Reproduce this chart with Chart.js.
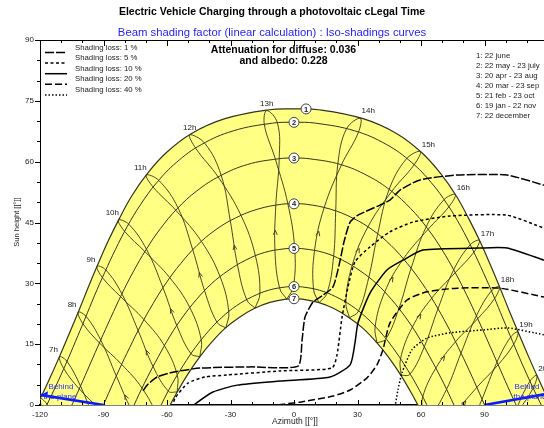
<!DOCTYPE html>
<html>
<head>
<meta charset="utf-8">
<script src="https://cdn.jsdelivr.net/npm/chart.js@4.4.1/dist/chart.umd.min.js"></script>
<style>html,body{margin:0;padding:0;background:#fff}canvas{display:block}</style>
</head>
<body>
<canvas id="c" width="544" height="428"></canvas>
<script>
const FONT = "'Liberation Sans', Arial, sans-serif";

const AZ_MAX = 118.1;
const tickAz = [-120, -90, -60, -30, 0, 30, 60, 90];
const tickEl = [0, 15, 30, 45, 60, 75, 90];

// Daily sun paths [azimuth, height]
const path1 = [[-129.7,-7.5],[-124.5,-2.9],[-119.6,1.9],[-115.0,7.0],[-110.5,12.3],[-106.1,17.7],[-101.7,23.2],[-97.3,28.9],[-92.8,34.5],[-87.9,40.3],[-82.6,45.9],[-76.6,51.6],[-69.4,57.0],[-60.4,62.2],[-48.6,66.9],[-32.6,70.6],[-11.7,72.8],[0,73.0],[11.7,72.8],[32.6,70.6],[48.6,66.9],[60.4,62.2],[69.4,57.0],[76.6,51.6],[82.6,45.9],[87.9,40.3],[92.8,34.5],[97.3,28.9],[101.7,23.2],[106.1,17.7],[110.5,12.3],[115.0,7.0],[119.6,1.9],[124.5,-2.9],[129.7,-7.5]];
const path2 = [[-122.2,-5.4],[-117.2,-0.4],[-112.4,4.8],[-107.8,10.1],[-103.3,15.6],[-98.8,21.2],[-94.3,26.9],[-89.5,32.6],[-84.4,38.3],[-78.8,44.0],[-72.4,49.5],[-64.9,54.8],[-55.6,59.8],[-43.8,64.2],[-28.7,67.6],[-10.1,69.5],[0,69.7],[10.1,69.5],[28.7,67.6],[43.8,64.2],[55.6,59.8],[64.9,54.8],[72.4,49.5],[78.8,44.0],[84.4,38.3],[89.5,32.6],[94.3,26.9],[98.8,21.2],[103.3,15.6],[107.8,10.1],[112.4,4.8],[117.2,-0.4],[122.2,-5.4]];
const path3 = [[-110.8,-6.5],[-105.9,-1.1],[-101.0,4.5],[-96.3,10.1],[-91.5,15.8],[-86.6,21.5],[-81.5,27.2],[-76.0,32.8],[-69.9,38.3],[-63.1,43.5],[-55.2,48.4],[-45.9,52.8],[-34.9,56.5],[-22.0,59.3],[-7.5,60.7],[0,60.9],[7.5,60.7],[22.0,59.3],[34.9,56.5],[45.9,52.8],[55.2,48.4],[63.1,43.5],[69.9,38.3],[76.0,32.8],[81.5,27.2],[86.6,21.5],[91.5,15.8],[96.3,10.1],[101.0,4.5],[105.9,-1.1],[110.8,-6.5]];
const path4 = [[-97.3,-8.6],[-92.4,-2.9],[-87.6,2.9],[-82.7,8.6],[-77.6,14.2],[-72.3,19.7],[-66.6,25.0],[-60.4,30.1],[-53.5,34.9],[-45.9,39.3],[-37.3,43.1],[-27.7,46.1],[-17.1,48.3],[-5.8,49.5],[0,49.6],[5.8,49.5],[17.1,48.3],[27.7,46.1],[37.3,43.1],[45.9,39.3],[53.5,34.9],[60.4,30.1],[66.6,25.0],[72.3,19.7],[77.6,14.2],[82.7,8.6],[87.6,2.9],[92.4,-2.9],[97.3,-8.6]];
const path5 = [[-84.0,-9.9],[-79.2,-4.3],[-74.4,1.3],[-69.4,6.7],[-64.1,11.9],[-58.6,17.0],[-52.6,21.7],[-46.1,26.0],[-39.0,29.9],[-31.2,33.1],[-22.9,35.7],[-14.0,37.6],[-4.7,38.5],[0,38.6],[4.7,38.5],[14.0,37.6],[22.9,35.7],[31.2,33.1],[39.0,29.9],[46.1,26.0],[52.6,21.7],[58.6,17.0],[64.1,11.9],[69.4,6.7],[74.4,1.3],[79.2,-4.3],[84.0,-9.9]];
const path6 = [[-67.3,-5.0],[-62.6,0.2],[-57.6,5.2],[-52.3,9.8],[-46.6,14.2],[-40.6,18.1],[-34.1,21.6],[-27.1,24.5],[-19.7,26.7],[-12.0,28.3],[-4.0,29.1],[0,29.2],[4.0,29.1],[12.0,28.3],[19.7,26.7],[27.1,24.5],[34.1,21.6],[40.6,18.1],[46.6,14.2],[52.3,9.8],[57.6,5.2],[62.6,0.2],[67.3,-5.0]];
const path7 = [[-65.0,-7.0],[-60.4,-1.9],[-55.5,2.9],[-50.3,7.5],[-44.8,11.7],[-38.9,15.5],[-32.6,18.9],[-25.9,21.6],[-18.8,23.8],[-11.4,25.3],[-3.8,26.1],[0,26.2],[3.8,26.1],[11.4,25.3],[18.8,23.8],[25.9,21.6],[32.6,18.9],[38.9,15.5],[44.8,11.7],[50.3,7.5],[55.5,2.9],[60.4,-1.9],[65.0,-7.0]];

const dateLabels = ['1: 22 june', '2: 22 may - 23 july', '3: 20 apr - 23 aug', '4: 20 mar - 23 sep', '5: 21 feb - 23 oct', '6: 19 jan - 22 nov', '7: 22 december'];
const markerPts = [[5.7,73.0],[0,69.7],[0,60.9],[0,49.6],[0,38.6],[0,29.2],[0,26.2]];

// Legal-time hour loops, Dec -> Jan ... Jun ... Nov -> Dec
const hourNames = ['6h','7h','8h','9h','10h','11h','12h','13h','14h','15h','16h','17h','18h','19h','20h'];
const hour6  = [[-110.7,-6.3],[-116.7,0.2],[-119.9,1.6],[-118.3,-1.5],[-111.3,-7.0]];
const hour7  = [[-86.2,-12.6],[-93.7,-4.3],[-100.9,4.7],[-107.3,10.8],[-110.8,11.9],[-108.8,9.0],[-101.5,4.0],[-91.2,-1.4],[-81.5,-7.0]];
const hour8  = [[-64.8,-6.7],[-69.0,-6.9],[-76.6,-1.3],[-83.9,7.1],[-91.3,16.0],[-98.3,21.9],[-102.0,22.9],[-99.8,20.1],[-91.9,15.3],[-81.4,10.0],[-71.7,4.1],[-65.1,-2.6],[-64.8,-6.7]];
const hour9  = [[-55.2,3.2],[-59.3,3.4],[-66.6,9.5],[-73.6,18.3],[-81.3,27.4],[-88.9,33.3],[-93.1,34.2],[-90.5,31.4],[-81.9,26.7],[-70.8,21.0],[-61.2,14.6],[-55.1,7.3],[-55.2,3.2]];
const hour10 = [[-44.5,11.9],[-48.6,12.6],[-55.3,19.5],[-61.9,28.9],[-69.7,38.4],[-78.1,44.6],[-83.0,45.6],[-80.0,42.8],[-70.4,37.8],[-58.7,31.4],[-49.2,24.0],[-43.8,16.0],[-44.5,11.9]];
const hour11 = [[-32.2,19.0],[-36.4,20.4],[-42.2,28.1],[-47.8,38.2],[-54.8,48.6],[-63.9,55.4],[-69.8,56.7],[-66.5,53.7],[-55.8,48.0],[-43.7,40.3],[-34.9,31.6],[-30.8,22.9],[-32.2,19.0]];
const hour12 = [[-18.4,23.9],[-22.3,25.9],[-26.7,34.5],[-30.1,45.4],[-34.4,56.6],[-42.1,64.5],[-49.3,66.6],[-46.3,63.2],[-35.8,56.2],[-25.0,46.7],[-18.2,36.7],[-16.1,27.5],[-18.4,23.9]];
const hour13 = [[-3.4,26.1],[-6.8,28.8],[-9.0,38.1],[-8.6,49.2],[-7.0,60.7],[-7.8,69.5],[-12.9,72.6],[-14.0,69.1],[-8.8,60.6],[-2.9,49.6],[0.3,38.6],[-0.3,29.2],[-3.4,26.1]];
const hour14 = [[11.8,25.2],[9.2,28.6],[9.7,38.1],[14.2,48.6],[22.4,59.2],[30.4,67.2],[31.3,70.7],[24.7,68.0],[20.7,59.4],[19.7,47.8],[18.7,36.6],[15.6,27.6],[11.8,25.2]];
const hour15 = [[26.2,21.5],[24.5,25.3],[27.4,34.3],[34.9,43.9],[46.2,52.7],[56.7,59.2],[59.7,62.5],[53.1,60.7],[44.9,53.1],[39.5,42.1],[35.3,31.4],[30.4,23.1],[26.2,21.5]];
const hour16 = [[39.2,15.3],[38.3,19.3],[42.8,27.8],[51.6,36.0],[63.3,43.3],[73.2,48.9],[76.2,51.9],[70.8,50.6],[62.4,43.9],[55.3,33.7],[49.5,23.7],[43.4,16.3],[39.2,15.3]];
const hour17 = [[50.6,7.3],[50.3,11.4],[55.8,19.1],[65.0,26.3],[76.1,32.6],[85.0,37.7],[87.6,40.6],[83.2,39.5],[75.4,33.3],[68.0,23.7],[61.5,14.3],[54.8,7.6],[50.6,7.3]];
const hour18 = [[60.6,-2.2],[60.8,2.0],[67.0,9.1],[76.3,15.6],[86.8,21.3],[94.8,26.3],[97.1,29.2],[93.2,28.1],[86.2,22.0],[78.9,12.8],[72.0,3.8],[64.8,-2.2],[60.6,-2.2]];
const hour19 = [[70.3,-8.4],[77.0,-1.7],[86.3,4.3],[96.4,9.9],[103.8,15.0],[105.8,18.0],[102.4,16.8],[95.9,10.6],[88.8,1.4],[81.7,-7.3]];
const hour20 = [[96.1,-7.1],[106.0,-1.3],[113.0,4.2],[114.7,7.3],[111.5,5.9],[105.4,-0.6],[98.6,-10.0]];

// Iso-shading curves [azimuth, height]
const lossNames = ['Shading loss: 1 %', 'Shading loss: 5 %', 'Shading loss: 10 %', 'Shading loss: 20 %', 'Shading loss: 40 %'];
const loss1  = [[-71.3,3.5],[-69.4,4.9],[-64.7,6.9],[-57.2,8.1],[-44.4,9.1],[-20.8,9.4],[1.9,9.6],[3.8,16.0],[5.2,21.7],[9.0,25.4],[13.2,26.9],[18.4,29.1],[21.3,34.5],[23.6,40.2],[26.5,45.1],[30.2,46.8],[40.6,49.3],[45.3,50.5],[50.1,53.0],[59.5,55.5],[77.0,56.7],[100.6,56.7],[118.1,54.2]];
const loss5  = [[-57.5,-0.5],[-56.2,1.7],[-50.1,5.4],[-42.0,6.9],[-31.6,7.4],[-6.6,8.4],[17.9,9.1],[20.3,12.3],[22.7,21.7],[25.5,29.1],[28.8,35.3],[35.9,39.0],[45.3,42.7],[56.2,45.1],[73.7,46.6],[100.6,46.8],[118.1,43.6]];
const loss10 = [[-49.0,-1.0],[-46.8,0.2],[-38.3,3.2],[-26.9,4.9],[-6.6,5.9],[17.0,6.9],[26.5,9.9],[28.8,15.3],[30.2,20.2],[35.9,27.6],[43.9,33.3],[51.5,35.7],[60.9,38.2],[87.9,38.7],[100.6,38.7],[118.1,35.7]];
const loss20 = [[-12.0,-0.5],[-5.2,0.2],[2.8,0.7],[18.4,2.2],[26.5,3.7],[34.5,6.7],[39.2,9.9],[42.0,13.6],[45.3,20.2],[53.4,25.9],[62.8,27.9],[77.0,28.8],[97.3,28.8],[118.1,26.6]];
const loss40 = [[47.7,-0.5],[49.1,3.7],[51.0,7.9],[55.7,13.6],[62.8,16.5],[73.7,17.8],[89.3,18.5],[101.1,19.0],[118.1,17.3]];

const behindLeft  = [[-120,2.5],[-90,0]];
const behindRight = [[90,0],[120,2.8]];

const hourLoops = [hour6, hour7, hour8, hour9, hour10, hour11, hour12, hour13, hour14, hour15, hour16, hour17, hour18, hour19, hour20];
const dayPaths = [path1, path2, path3, path4, path5, path6, path7];
const lossCurves = [loss1, loss5, loss10, loss20, loss40];
const lossDash = [[9, 2], [3, 2.5], [], [7, 3], [1.5, 2]];
// segment (Feb -> Mar) carrying the direction arrow on each hour loop
const arrowSeg = [-1, -1, 2, 2, 2, 2, 2, 2, 2, 2, 2, 2, 2, 1, -1];

const pts = a => a.map(p => ({ x: p[0], y: p[1] }));
const curve = (a, o) => Object.assign({
  data: pts(a), showLine: true, pointRadius: 0, pointHoverRadius: 0,
  borderWidth: 1, borderColor: '#34341c', fill: false, tension: 0.4
}, o);

const datasets = [];
datasets.push(curve(path1.concat(path7.slice().reverse()), {
  borderWidth: 0, borderColor: 'rgba(0,0,0,0)', backgroundColor: '#ffff84', fill: 'shape', order: 100
}));
dayPaths.forEach((p, i) => datasets.push(curve(p, { order: 60, borderWidth: (i === 0 || i === 6) ? 1.2 : 1 })));
hourLoops.forEach(h => datasets.push(curve(h, { order: 60, borderWidth: 0.9 })));
lossCurves.forEach((c, i) => datasets.push(curve(c, {
  order: 20, borderColor: '#000', borderWidth: 1.5, borderDash: lossDash[i], tension: 0.2
})));
datasets.push(curve(behindLeft, { order: 10, borderColor: '#0a1aff', borderWidth: 2.6, tension: 0 }));
datasets.push(curve(behindRight, { order: 10, borderColor: '#0a1aff', borderWidth: 2.6, tension: 0 }));
datasets.push({
  data: pts(markerPts), showLine: false, pointRadius: 5, pointHoverRadius: 5,
  backgroundColor: '#fff', borderColor: '#444', borderWidth: 1, order: 1
});

const decor = {
  id: 'decor',
  afterDraw(chart) {
    const { ctx, chartArea: a, scales: { x, y } } = chart;
    const X = v => x.getPixelForValue(v), Y = v => y.getPixelForValue(v);
    ctx.save();

    // frame ticks
    ctx.strokeStyle = '#000';
    ctx.lineWidth = 1;
    ctx.beginPath();
    for (let v = 0; v <= 90; v += 5) {
      const py = Math.round(Y(v)) + 0.5, len = v % 15 === 0 ? 5 : 3;
      ctx.moveTo(a.left - len, py); ctx.lineTo(a.left, py);
    }
    for (let v = -120; v <= AZ_MAX; v += 10) {
      const px = Math.round(X(v)) + 0.5, major = v % 30 === 0;
      ctx.moveTo(px, a.top); ctx.lineTo(px, a.top + (major ? 6 : 3));
      ctx.moveTo(px, a.bottom); ctx.lineTo(px, a.bottom - (major ? 5 : 3));
    }
    ctx.moveTo(a.left, a.top + 0.5); ctx.lineTo(a.right, a.top + 0.5);
    ctx.stroke();

    // direction arrows on the hour loops
    ctx.strokeStyle = '#34341c';
    ctx.lineWidth = 0.9;
    hourLoops.forEach((h, i) => {
      const k = arrowSeg[i];
      if (k < 0) return;
      const ax = X(h[k][0]), ay = Y(h[k][1]), bx = X(h[k + 1][0]), by = Y(h[k + 1][1]);
      const px = ax + 0.45 * (bx - ax), py = ay + 0.45 * (by - ay);
      const t = Math.atan2(by - ay, bx - ax);
      ctx.beginPath();
      ctx.moveTo(px - 5 * Math.cos(t - 0.4), py - 5 * Math.sin(t - 0.4));
      ctx.lineTo(px, py);
      ctx.lineTo(px - 5 * Math.cos(t + 0.4), py - 5 * Math.sin(t + 0.4));
      ctx.stroke();
    });

    // hour labels above the 22 june path
    ctx.fillStyle = '#1a1a1a';
    ctx.font = '8px ' + FONT;
    ctx.textAlign = 'center';
    ctx.textBaseline = 'middle';
    hourLoops.forEach((h, i) => {
      if (i === 0) return;
      let top = h[0];
      h.forEach(p => { if (p[1] > top[1]) top = p; });
      const dx = top[0] < -60 ? -6 : (top[0] < 0 ? 0 : 8);
      ctx.fillText(hourNames[i], X(top[0]) + dx, Y(top[1]) - 7);
    });

    // date markers numbers
    ctx.font = 'bold 7.5px ' + FONT;
    ctx.fillStyle = '#222';
    markerPts.forEach((p, i) => ctx.fillText(String(i + 1), X(p[0]), Y(p[1]) + 0.5));

    // left arrow head of the plane line
    ctx.fillStyle = '#0a1aff';
    const hx = X(behindLeft[0][0]), hy = Y(behindLeft[0][1]);
    ctx.beginPath();
    ctx.moveTo(hx + 1, hy); ctx.lineTo(hx + 8, hy - 3.5); ctx.lineTo(hx + 7, hy + 3); ctx.closePath();
    ctx.fill();

    // plane labels
    ctx.font = '8px ' + FONT;
    ctx.fillStyle = '#2a2aff';
    ctx.fillText('Behind', 61, 387);
    ctx.fillText('the plane', 60, 397);
    ctx.fillText('Behind', 527, 387);
    ctx.fillText('the plane', 530, 397);

    // titles
    ctx.fillStyle = '#000';
    ctx.font = 'bold 10.5px ' + FONT;
    ctx.fillText('Electric Vehicle Charging through a photovoltaic cLegal Time', 272, 12);
    ctx.fillStyle = '#2424ff';
    ctx.font = '11.3px ' + FONT;
    ctx.fillText('Beam shading factor (linear calculation) : Iso-shadings curves', 272, 33);
    ctx.fillStyle = '#000';
    ctx.font = 'bold 10.5px ' + FONT;
    ctx.fillText('Attenuation for diffuse: 0.036', 283.5, 50.5);
    ctx.fillText('and albedo: 0.228', 283.5, 61);

    // shading loss legend
    ctx.textAlign = 'left';
    ctx.font = '7.8px ' + FONT;
    lossNames.forEach((n, i) => {
      const ty = 47.5 + i * 10.6;
      ctx.strokeStyle = '#000';
      ctx.lineWidth = 1.5;
      ctx.setLineDash(lossDash[i]);
      ctx.beginPath();
      ctx.moveTo(45, ty + 5); ctx.lineTo(67, ty + 5);
      ctx.stroke();
      ctx.setLineDash([]);
      ctx.fillStyle = '#222';
      ctx.fillText(n, 75, ty);
    });

    // date legend
    dateLabels.forEach((n, i) => ctx.fillText(n, 476, 55.7 + i * 10.05));

    // axis titles
    ctx.textAlign = 'center';
    ctx.font = '8.5px ' + FONT;
    ctx.fillStyle = '#222';
    ctx.fillText('Azimuth [[°]]', 295, 422);
    ctx.save();
    ctx.translate(17, 222);
    ctx.rotate(-Math.PI / 2);
    ctx.font = '7.5px ' + FONT;
    ctx.fillText('Sun height [[°]]', 0, 0);
    ctx.restore();

    ctx.restore();
  }
};

new Chart(document.getElementById('c'), {
  type: 'scatter',
  data: { datasets },
  options: {
    responsive: false,
    animation: false,
    events: [],
    layout: { autoPadding: false, padding: { top: 40, right: 0, bottom: 0, left: 0 } },
    plugins: { legend: { display: false }, tooltip: { enabled: false } },
    scales: {
      x: {
        type: 'linear', min: -120, max: AZ_MAX,
        afterBuildTicks: s => { s.ticks = tickAz.map(v => ({ value: v })); },
        afterFit: s => { s.height = 23; },
        grid: { display: false, drawTicks: false },
        border: { display: true, color: '#000', width: 1.6 },
        ticks: { font: { family: FONT, size: 8 }, color: '#222', padding: 5, maxRotation: 0, autoSkip: false }
      },
      y: {
        type: 'linear', min: 0, max: 90,
        afterBuildTicks: s => { s.ticks = tickEl.map(v => ({ value: v })); },
        afterFit: s => { s.width = 40; },
        grid: { display: false, drawTicks: false },
        border: { display: true, color: '#000', width: 1 },
        ticks: { font: { family: FONT, size: 8 }, color: '#222', padding: 6, autoSkip: false }
      }
    }
  },
  plugins: [decor]
});
</script>
</body>
</html>
